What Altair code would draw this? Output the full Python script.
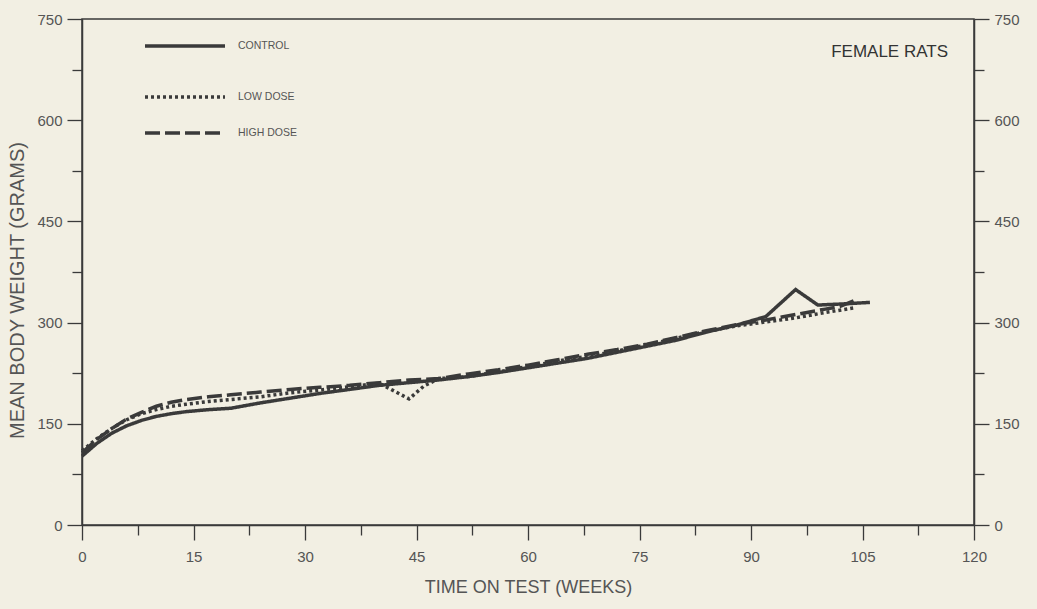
import altair as alt
import pandas as pd

# Mean body weight (grams) of female rats by week on test
control_weeks = [0, 2, 4, 6, 8, 10, 12, 14, 17, 20, 24, 28, 32, 36, 40, 44, 48, 52, 56, 60,
                 64, 68, 72, 76, 80, 84, 88, 92, 96, 99, 103, 106]
control_weight = [102, 121, 136, 147, 155, 161, 165, 168, 171, 173, 181, 188, 195, 201, 207, 211,
                  215, 220, 226, 233, 240, 247, 256, 265, 274, 286, 296, 309, 349, 326, 328, 330]

low_weeks = [0, 2, 4, 6, 8, 10, 12, 14, 17, 20, 24, 28, 32, 36, 40, 44, 46, 48, 52, 56, 60,
             64, 68, 72, 76, 80, 84, 88, 92, 96, 100, 104]
low_weight = [110, 128, 143, 156, 165, 171, 176, 179, 183, 186, 190, 196, 200, 205, 210, 187,
              206, 217, 220, 227, 235, 243, 250, 258, 267, 277, 287, 295, 301, 307, 315, 322]

high_weeks = [0, 2, 4, 6, 8, 10, 12, 14, 17, 20, 24, 28, 32, 36, 40, 44, 48, 52, 56, 60,
              64, 68, 72, 76, 80, 84, 88, 92, 96, 100, 102, 104]
high_weight = [107, 127, 143, 157, 167, 176, 182, 186, 190, 193, 197, 201, 204, 207, 211, 215,
               217, 224, 230, 237, 245, 253, 260, 268, 278, 288, 297, 304, 312, 320, 324, 333]

series_names = ["CONTROL", "LOW DOSE", "HIGH DOSE"]
x_ticks = [i * 7.5 for i in range(17)]
y_ticks = [i * 75 for i in range(11)]

rows = []
for name, weeks, weights in [("CONTROL", control_weeks, control_weight),
                             ("LOW DOSE", low_weeks, low_weight),
                             ("HIGH DOSE", high_weeks, high_weight)]:
    for w, v in zip(weeks, weights):
        rows.append({"series": name, "week": w, "weight": v})
df = pd.DataFrame(rows)

INK = "#3a3a3a"
TEXT = "#555555"
BG = "#f2efe3"
SANS = "Liberation Sans, Arial, sans-serif"

dash_scale = alt.Scale(domain=series_names, range=[[1, 0], [3, 3], [15, 5]])

x_axis = alt.Axis(
    values=x_ticks, labelExpr="datum.value % 15 === 0 ? datum.label : ''",
    tickSize={"condition": {"test": "datum.value % 15 === 0", "value": 15}, "value": 10},
    title="TIME ON TEST (WEEKS)", titleFont=SANS, titleFontSize=18, titleFontWeight="normal",
    titleColor=TEXT, titlePadding=14, labelFont=SANS, labelFontSize=15, labelColor=TEXT,
    labelPadding=9, grid=False, domainColor=INK, domainWidth=1.5, tickColor=INK, tickWidth=1.3,
    labelOverlap=False, labelFlush=False,
)

def y_axis(orient, title):
    extra = {"titleY": 271} if title else {}
    return alt.Axis(
        orient=orient, values=y_ticks,
        labelExpr="datum.value % 150 === 0 ? datum.label : ''",
        tickSize={"condition": {"test": "datum.value % 150 === 0", "value": 15}, "value": 10},
        title=title, titleFont=SANS, titleFontSize=20, titleFontWeight="normal",
        titleColor=TEXT, titlePadding=9, labelFont=SANS, labelFontSize=15,
        labelColor=TEXT, labelPadding=5, grid=False, domainColor=INK, domainWidth=1.5,
        tickColor=INK, tickWidth=1.3, labelOverlap=False, labelFlush=False, **extra,
    )

x_scale = alt.Scale(domain=[0, 120], nice=False)
y_scale = alt.Scale(domain=[0, 750], nice=False)

lines = alt.Chart(df).mark_line(color=INK, strokeWidth=3.5, strokeCap="butt",
                                 strokeJoin="miter").encode(
    x=alt.X("week:Q", scale=x_scale, axis=x_axis),
    y=alt.Y("weight:Q", scale=y_scale, axis=y_axis("left", "MEAN BODY WEIGHT (GRAMS)")),
    strokeDash=alt.StrokeDash("series:N", scale=dash_scale, legend=None),
    detail="series:N",
)

right_axis = alt.Chart(df).mark_line(opacity=0).encode(
    x=alt.X("week:Q", scale=x_scale, axis=x_axis),
    y=alt.Y("weight:Q", scale=y_scale, axis=y_axis("right", None)),
    detail="series:N",
)

# Hand-placed key in the upper-left corner
key_layers = []
for name, ypos, dash in [("CONTROL", 46, [1, 0]), ("LOW DOSE", 97, [3, 3]),
                         ("HIGH DOSE", 133, [15, 5])]:
    key_layers.append(
        alt.Chart(pd.DataFrame({"label": [name]})).mark_rule(
            color=INK, strokeWidth=3.5, strokeDash=dash, strokeCap="butt"
        ).encode(x=alt.value(63), x2=alt.value(143), y=alt.value(ypos - 19))
    )
    key_layers.append(
        alt.Chart(pd.DataFrame({"label": [name]})).mark_text(
            align="left", baseline="middle", font=SANS, fontSize=10.5, color=TEXT
        ).encode(x=alt.value(156), y=alt.value(ypos - 19), text="label:N")
    )

panel_title = alt.Chart(pd.DataFrame({"t": ["FEMALE RATS"]})).mark_text(
    align="right", baseline="middle", font=SANS, fontSize=17, color="#333333"
).encode(x=alt.value(866), y=alt.value(33), text="t:N")

chart = alt.layer(lines, right_axis, *key_layers, panel_title).resolve_scale(
    y="shared"
).resolve_axis(y="independent").properties(
    width=892, height=506,
    autosize=alt.AutoSizeParams(type="none"),
    padding={"left": 82, "top": 19, "right": 63, "bottom": 84},
    background=BG,
).configure_view(stroke=INK, strokeWidth=1.5)

chart.save("out.html", embed_options={"renderer": "svg", "actions": False})
